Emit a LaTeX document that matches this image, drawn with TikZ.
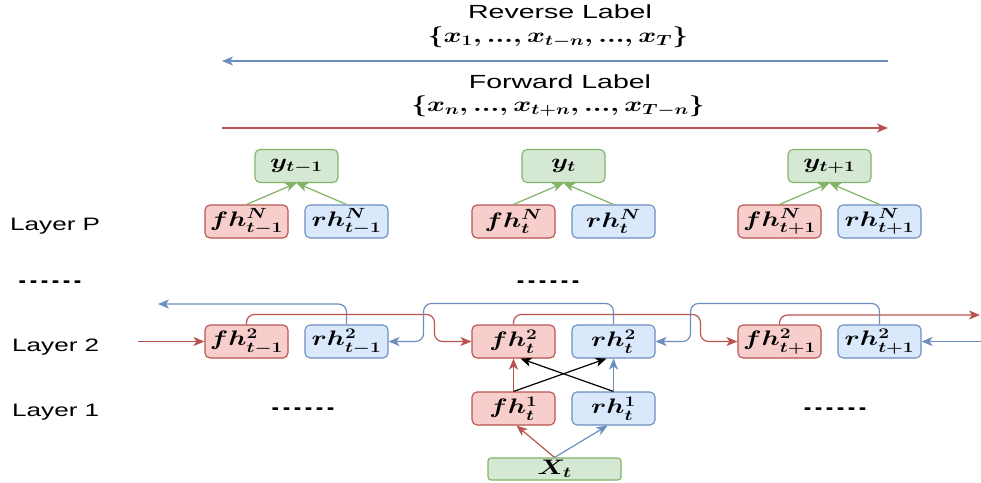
\RequirePackage{fix-cm}
\documentclass[tikz,border=0pt]{standalone}
\usepackage{amsmath}
\usepackage{graphicx}
\usepackage{fontspec}
\setmainfont{Liberation Sans}
\usetikzlibrary{arrows.meta}
\definecolor{redS}{HTML}{B85450}
\definecolor{redF}{HTML}{F8CECC}
\definecolor{blueS}{HTML}{6C8EBF}
\definecolor{blueF}{HTML}{DAE8FC}
\definecolor{greenS}{HTML}{82B366}
\definecolor{greenF}{HTML}{D5E8D4}
\newcommand{\sx}[1]{\scalebox{1.45}[1]{#1}}
\newcommand{\sxt}[1]{\scalebox{1.5}[1]{#1}}
\newcommand{\bm}[1]{\scalebox{1.3}[1]{$\boldsymbol{#1}$}}
\begin{document}
\begin{tikzpicture}[x=1pt,y=-1pt,
  cell/.style={rounded corners=5pt, line width=1.1pt, minimum width=83pt, minimum height=33pt, inner sep=0pt, font=\fontsize{21}{21}\selectfont},
  fcell/.style={cell, draw=redS, fill=redF},
  rcell/.style={cell, draw=blueS, fill=blueF},
  gcell/.style={cell, draw=greenS, fill=greenF},
  tip/.style={-{Stealth[length=11pt,width=9pt,inset=3pt]}, line width=1.2pt},
  redA/.style={tip, draw=redS},
  blueA/.style={tip, draw=blueS},
  greenA/.style={tip, draw=greenS},
  blackA/.style={tip, draw=black},
  lab/.style={font=\fontsize{18}{18}\selectfont, anchor=base west, inner sep=0pt},
  ttl/.style={font=\fontsize{19}{19}\selectfont, inner sep=0pt},
  mth/.style={font=\fontsize{21}{21}\selectfont, inner sep=0pt},
  dots/.style={font=\fontsize{18}{18}\selectfont\bfseries, inner sep=0pt},
]
\useasboundingbox (0,0) rectangle (981,482);

% top labels
\node[ttl] (revlab) at (560,12) {\sxt{Reverse Label}};
\node[mth] (revset) at (558,37) {\bm{\{x_1, ..., x_{t-n}, ..., x_T\}}};
\node[ttl] (fwdlab) at (560,82) {\sxt{Forward Label}};
\node[mth] (fwdset) at (558,106) {\bm{\{x_n, ..., x_{t+n}, ..., x_{T-n}\}}};
\coordinate (ra) at (888,61);
\coordinate (rb) at (222,61);
\coordinate (fa) at (222,128);
\coordinate (fb) at (888,128);
\draw[blueA] (ra) -- (rb);
\draw[redA] (fa) -- (fb);

% layer labels
\node[lab] (lP) at (10,230) {\sx{Layer P}};
\node[lab] (l2) at (12,351) {\sx{Layer 2}};
\node[lab] (l1) at (12,416) {\sx{Layer 1}};
\node[dots] (d1) at (50,282) {\scalebox{2.2}[1]{......}};
\node[dots] (d2) at (548,282) {\scalebox{2.2}[1]{......}};
\node[dots] (d3) at (303,409) {\scalebox{2.2}[1]{......}};
\node[dots] (d4) at (835,409) {\scalebox{2.2}[1]{......}};

% Layer P
\node[gcell] (yP1) at (296.5,166) {\bm{y_{t-1}}};
\node[gcell] (yP2) at (563.5,166) {\bm{y_{t}}};
\node[gcell] (yP3) at (829.5,166) {\bm{y_{t+1}}};
\node[fcell] (fP1) at (246.5,221.5) {\bm{fh^N_{t-1}}};
\node[rcell] (rP1) at (346.5,221.5) {\bm{rh^N_{t-1}}};
\node[fcell] (fP2) at (513.5,221.5) {\bm{fh^N_{t}}};
\node[rcell] (rP2) at (613.5,221.5) {\bm{rh^N_{t}}};
\node[fcell] (fP3) at (779.5,221.5) {\bm{fh^N_{t+1}}};
\node[rcell] (rP3) at (879.5,221.5) {\bm{rh^N_{t+1}}};
\foreach \i in {1,2,3} {
  \draw[greenA] (fP\i.north) -- (yP\i.south);
  \draw[greenA] (rP\i.north) -- (yP\i.south);
}

% Layer 2
\node[fcell] (f21) at (246.5,341.5) {\bm{fh^2_{t-1}}};
\node[rcell] (r21) at (346.5,341.5) {\bm{rh^2_{t-1}}};
\node[fcell] (f22) at (513.5,341.5) {\bm{fh^2_{t}}};
\node[rcell] (r22) at (613.5,341.5) {\bm{rh^2_{t}}};
\node[fcell] (f23) at (779.5,341.5) {\bm{fh^2_{t+1}}};
\node[rcell] (r23) at (879.5,341.5) {\bm{rh^2_{t+1}}};

% Layer 1
\node[fcell] (f1) at (513.5,408.5) {\bm{fh^1_{t}}};
\node[rcell] (r1) at (613.5,408.5) {\bm{rh^1_{t}}};
\node[gcell, minimum width=133pt, minimum height=22pt, rounded corners=3pt] (X) at (554.5,469) {\bm{X_t}};

% Layer 2 connectors
\coordinate (lin) at (138,341.5);
\coordinate (lout) at (158,304);
\coordinate (rout) at (980,315);
\coordinate (rin) at (981,341.5);
\draw[redA] (lin) -- (f21.west);
\draw[blueA] (rin) -- (r23.east);
\draw[blueA, rounded corners=8pt] (r21.north) |- (lout);
\draw[redA, rounded corners=8pt] (f23.north) |- (rout);
\draw[redA, rounded corners=8pt] (f21.north) -- ++(0,-10) -| ([xshift=-37pt]f22.west) -- (f22.west);
\draw[redA, rounded corners=8pt] (f22.north) -- ++(0,-10) -| ([xshift=-37pt]f23.west) -- (f23.west);
\draw[blueA, rounded corners=8pt] (r22.north) -- ++(0,-21) -| ([xshift=35pt]r21.east) -- (r21.east);
\draw[blueA, rounded corners=8pt] (r23.north) -- ++(0,-21) -| ([xshift=35pt]r22.east) -- (r22.east);

% Layer 1 -> Layer 2
\draw[redA] (f1.north) -- (f22.south);
\draw[blueA] (r1.north) -- (r22.south);
\draw[blackA] (f1.north) -- ([xshift=-7pt]r22.south);
\draw[blackA] (r1.north) -- ([xshift=7pt]f22.south);

% input
\draw[redA] (X.north) -- ([xshift=3pt]f1.south);
\draw[blueA] (X.north) -- ([xshift=-6pt]r1.south);
\end{tikzpicture}
\end{document}
